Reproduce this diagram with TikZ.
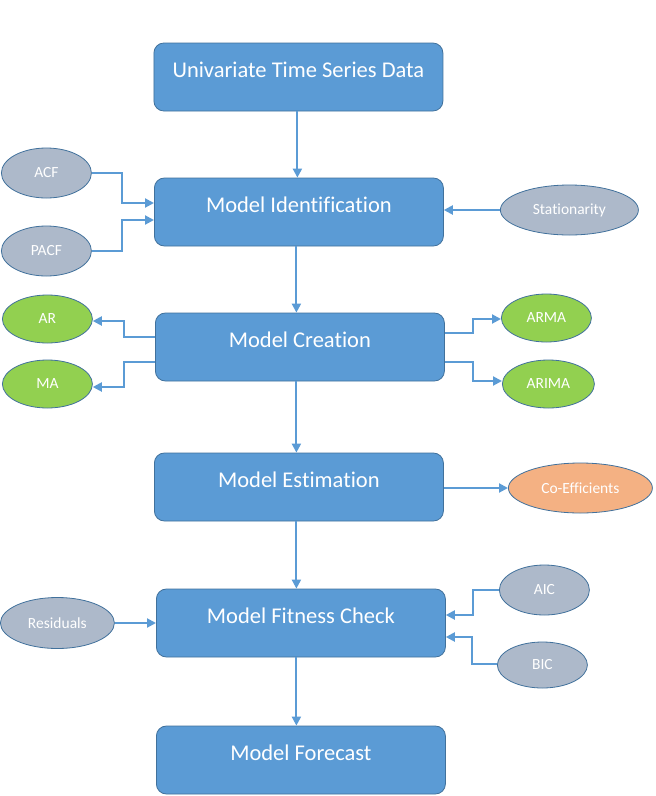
\documentclass[tikz,border=0pt]{standalone}
\usepackage{fontspec}
\setmainfont{Carlito}[Ligatures={NoCommon,NoRare,NoContextual}]
\usetikzlibrary{shapes.geometric,arrows.meta}
\definecolor{boxfill}{HTML}{5B9BD5}
\definecolor{boxline}{HTML}{41719C}
\definecolor{grayfill}{HTML}{ADB9CA}
\definecolor{greenfill}{HTML}{92D050}
\definecolor{orangefill}{HTML}{F4B183}
\begin{document}
\begin{tikzpicture}[x=1pt,y=-1pt,
  box/.style={draw=boxline, fill=boxfill, rounded corners=10pt, minimum width=289pt, minimum height=68pt, line width=0.8pt, text=white, font=\fontsize{22.5}{26}\selectfont, text height=8pt, text depth=8pt, inner sep=0pt},
  oval/.style={ellipse, draw=boxline, line width=0.8pt, text=white, font=\fontsize{15.5}{18}\selectfont, inner sep=0pt},
  grayoval/.style={oval, fill=grayfill},
  greenoval/.style={oval, fill=greenfill},
  orangeoval/.style={oval, fill=orangefill},
  conn/.style={draw=boxfill, line width=2pt},
  arr/.style={conn, -{Triangle[length=9pt,width=9pt]}}
]
\fill[white] (0,0) rectangle (655,796);

% main boxes
\node[box] (b1) at (298,77) {Univariate Time Series Data};
\node[box] (b2) at (298.5,212) {Model Identification};
\node[box] (b3) at (299.5,347) {Model Creation};
\node[box] (b4) at (298.5,487) {Model Estimation};
\node[box] (b5) at (300.5,623) {Model Fitness Check};
\node[box] (b6) at (300.5,760) {Model Forecast};

% ellipses
\node[grayoval, minimum width=90pt, minimum height=50pt] (acf) at (46,173) {ACF};
\node[grayoval, minimum width=90pt, minimum height=50pt] (pacf) at (46,251) {PACF};
\node[grayoval, minimum width=138pt, minimum height=50pt] (stat) at (569,210) {Stationarity};
\node[greenoval, minimum width=90pt, minimum height=48pt] (ar) at (47,319) {AR};
\node[greenoval, minimum width=90pt, minimum height=48pt] (ma) at (47,384) {MA};
\node[greenoval, minimum width=90pt, minimum height=48pt] (arma) at (546,318) {ARMA};
\node[greenoval, minimum width=92pt, minimum height=48pt] (arima) at (548,384) {ARIMA};
\node[orangeoval, minimum width=144pt, minimum height=50pt] (coef) at (580,488) {Co-Efficients};
\node[grayoval, minimum width=114pt, minimum height=51pt] (resid) at (57,623) {Residuals};
\node[grayoval, minimum width=90pt, minimum height=50pt] (aic) at (544,590) {AIC};
\node[grayoval, minimum width=90pt, minimum height=46pt] (bic) at (542,665) {BIC};

% vertical flow
\draw[arr] (b1.south -| 297,0) -- (b2.north -| 297,0);
\draw[arr] (b2.south -| 296,0) -- (b3.north -| 296,0);
\draw[arr] (b3.south -| 296,0) -- (b4.north -| 296,0);
\draw[arr] (b4.south -| 296,0) -- (b5.north -| 296,0);
\draw[arr] (b5.south -| 296,0) -- (b6.north -| 296,0);

% identification inputs
\draw[arr] (acf.east) -| (122,203) -- (b2.west |- 0,203);
\draw[arr] (pacf.east) -| (122,220) -- (b2.west |- 0,220);
\draw[arr] (stat.west) -- (b2.east |- stat.west);

% creation outputs
\draw[arr] (b3.west |- 0,337) -| (124,321) -- (ar.east |- 0,321);
\draw[arr] (b3.west |- 0,362) -| (124,387) -- (ma.east |- 0,387);
\draw[arr] (b3.east |- 0,333) -| (473,319) -- (arma.west |- 0,319);
\draw[arr] (b3.east |- 0,362) -| (473,381) -- (arima.west |- 0,381);

% estimation output
\draw[arr] (b4.east |- coef.west) -- (coef.west);

% fitness inputs
\draw[arr] (resid.east) -- (b5.west |- resid.east);
\draw[arr] (aic.west) -| (473,615) -- (b5.east |- 0,615);
\draw[arr] (bic.west |- 0,664) -| (472,637) -- (b5.east |- 0,637);
\end{tikzpicture}
\end{document}
